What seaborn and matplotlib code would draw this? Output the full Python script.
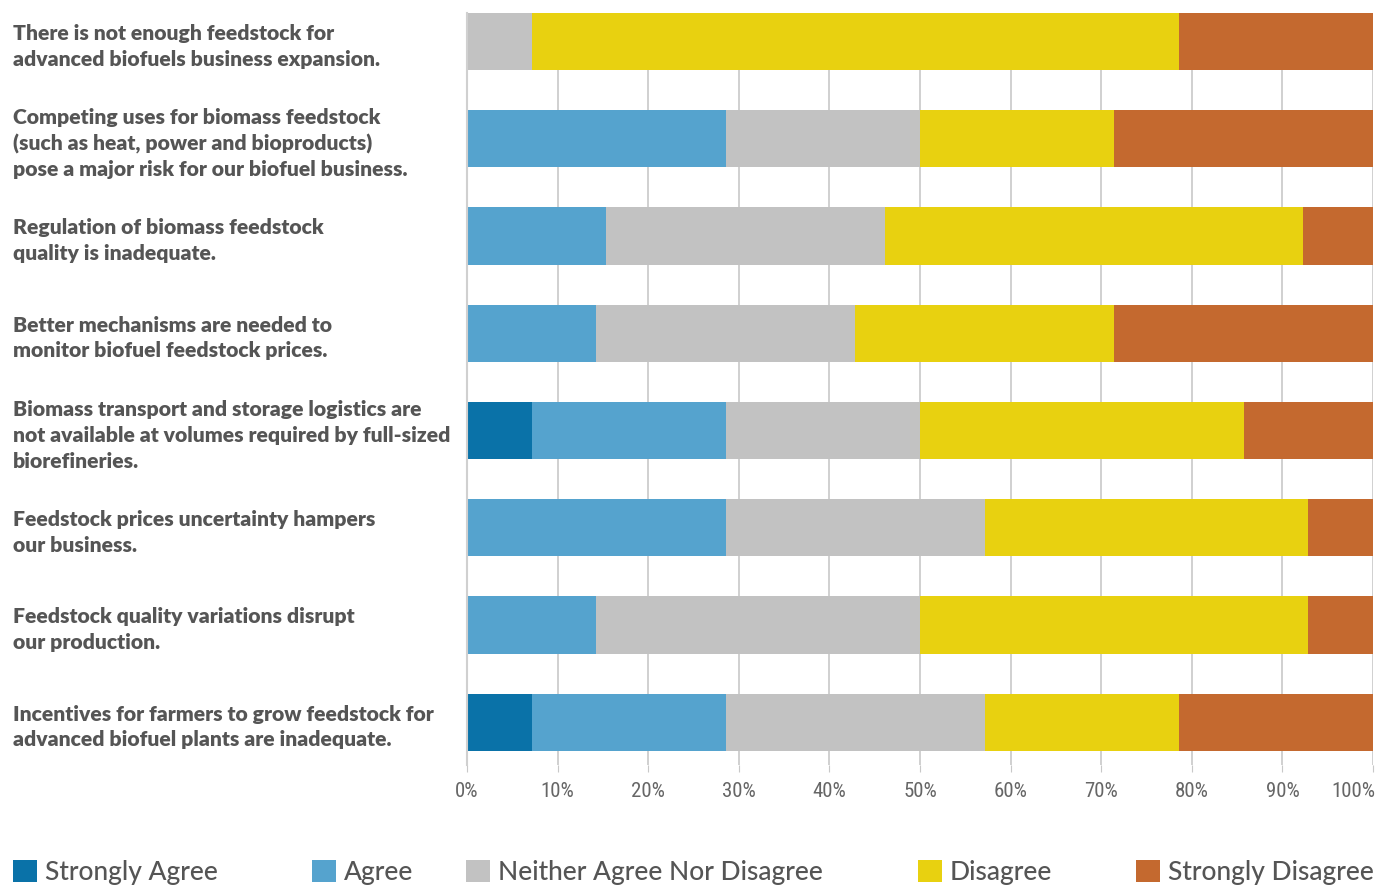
import matplotlib
matplotlib.use("Agg")
import matplotlib.pyplot as plt
import seaborn as sns
import numpy as np
import pandas as pd
from matplotlib.patches import Patch
from matplotlib.transforms import ScaledTranslation

statements = [
    "There is not enough feedstock for\nadvanced biofuels business expansion.",
    "Competing uses for biomass feedstock\n(such as heat, power and bioproducts)\npose a major risk for our biofuel business.",
    "Regulation of biomass feedstock\nquality is inadequate.",
    "Better mechanisms are needed to\nmonitor biofuel feedstock prices.",
    "Biomass transport and storage logistics are\nnot available at volumes required by full-sized\nbiorefineries.",
    "Feedstock prices uncertainty hampers\nour business.",
    "Feedstock quality variations disrupt\nour production.",
    "Incentives for farmers to grow feedstock for\nadvanced biofuel plants are inadequate.",
]
categories = ["Strongly Agree", "Agree", "Neither Agree Nor Disagree", "Disagree", "Strongly Disagree"]
strongly_agree = [0.0, 0.0, 0.0, 0.0, 7.14, 0.0, 0.0, 7.14]
agree = [0.0, 28.57, 15.38, 14.29, 21.43, 28.57, 14.29, 21.43]
neither = [7.14, 21.43, 30.77, 28.57, 21.43, 28.57, 35.71, 28.57]
disagree = [71.43, 21.43, 46.15, 28.57, 35.71, 35.71, 42.86, 21.43]
strongly_disagree = [21.43, 28.57, 7.69, 28.57, 14.29, 7.14, 7.14, 21.43]
xtick_labels = ["0%", "10%", "20%", "30%", "40%", "50%", "60%", "70%", "80%", "90%", "100%"]
colors = ["#0a72a8", "#55a3ce", "#c2c2c2", "#e8d110", "#c4692f"]

series = [strongly_agree, agree, neither, disagree, strongly_disagree]
cum = np.cumsum(np.array(series), axis=0)

fig = plt.figure(figsize=(13.78, 8.86), dpi=100)
ax = fig.add_axes([467/1378, 1-765/886, (1373-467)/1378, (765-13)/886])

df = pd.DataFrame({"statement": statements})
for k in range(len(categories) - 1, -1, -1):
    df["val"] = cum[k]
    sns.barplot(data=df, x="val", y="statement", orient="h", color=colors[k],
                saturation=1, width=0.59, ax=ax, zorder=2)

ax.set_xlim(0, 100)
ax.set_ylim(7.44, -0.293)
ax.set_xticks(np.arange(0, 101, 10))
ax.set_xticklabels(xtick_labels)
ax.xaxis.grid(True, color="#c8c8c8", linewidth=1.2, zorder=0)
ax.set_axisbelow(True)
ax.set_xlabel("")
ax.set_ylabel("")
for s in ["top", "right", "bottom"]:
    ax.spines[s].set_visible(False)
ax.spines["left"].set_color("#d0d0d0")
ax.spines["left"].set_linewidth(1.5)

ax.tick_params(axis="x", length=5, color="#c8c8c8", labelsize=15, labelcolor="#666666", pad=7)
xt = ax.get_xticklabels()
for t in xt:
    t.set_family(["Roboto Condensed", "DejaVu Sans"])
    t.set_fontweight("normal")
xt[-1].set_ha("right")
xt[-1].set_transform(xt[-1].get_transform() + ScaledTranslation(2/72, 0, fig.dpi_scale_trans))

ax.tick_params(axis="y", length=0, pad=454*0.72)
for t in ax.get_yticklabels():
    t.set_ha("left")
    t.set_fontweight("heavy")
    t.set_fontsize(15.2)
    t.set_color("#555555")
    t.set_family(["Lato", "DejaVu Sans"])
    t.set_linespacing(1.42)

legend_x = [13, 312, 466, 918, 1136]
for k, cat in enumerate(categories):
    fig.legend(handles=[Patch(facecolor=colors[k], edgecolor="none")], labels=[cat],
               loc="lower left", bbox_to_anchor=(legend_x[k]/1378, 0.001),
               frameon=False, borderpad=0, borderaxespad=0, handlelength=0.9, handleheight=0.9,
               handletextpad=0.3, prop={"family": ["Lato", "DejaVu Sans"], "size": 19, "weight": "medium"},
               labelcolor="#555555")

fig.savefig("out.png", dpi=100)
